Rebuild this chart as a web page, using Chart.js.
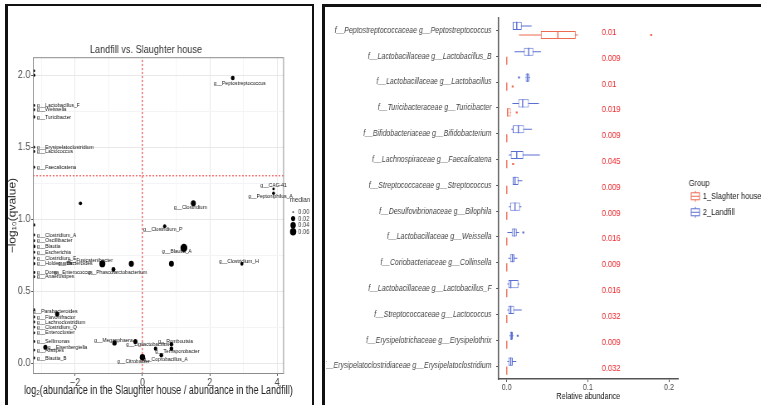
<!DOCTYPE html>
<html>
<head>
<meta charset="utf-8">
<script src="https://cdn.jsdelivr.net/npm/chart.js@4.4.1/dist/chart.umd.min.js"></script>
<style>
  body { margin: 0; width: 761px; height: 405px; overflow: hidden; background: #fff; position: relative; }
  .frame { position: absolute; border: 0 solid #111; }
  #f1 { left: 5px; top: 4px; width: 304px; height: 410px; border-width: 2px 2px 0 3px; }
  #f2 { left: 322px; top: 4px; width: 450px; height: 410px; border-width: 3px 0 0 3px; }
  /* the source figure is squeezed sideways, so the canvases are too */
  .box { position: absolute; transform: scaleX(0.83); transform-origin: 0 0; }
  #b1 { left: 8px; top: 7px; width: 366px; height: 398px; }
  #b2 { left: 326px; top: 7px; width: 524px; height: 398px; }
</style>
</head>
<body>
<div class="frame" id="f1"></div>
<div class="frame" id="f2"></div>
<div class="box" id="b1"><canvas id="volcano"></canvas></div>
<div class="box" id="b2"><canvas id="boxes"></canvas></div>
<script>
const FONT = "'Liberation Sans', Arial, sans-serif";
const SQUEEZE = 0.83;
Chart.defaults.font.family = FONT;
Chart.defaults.animation = false;

// ---- left: volcano plot ----
const genus = ['', '', 'g__Lactobacillus_F', 'g__Weissella', 'g__Turicibacter', 'g__Erysipelatoclostridium',
  'g__Lactococcus', 'g__Faecalicatena', 'g__Peptostreptococcus', 'g__CAG-41', 'g__Peptoniphilus_A', '',
  'g__Clostridium', '', 'g__Clostridium_P', 'g__Clostridium_A', 'g__Oscillibacter', 'g__Blautia',
  'g__Escherichia', 'g__Clostridium_E', 'g__Holdemania', 'g__Bacteroides', 'g__Dorea', 'g__Enterococcus',
  'g__Anaerostipes', 'g__Blautia_A', 'g__Fusicatenibacter', '', 'g__Phascolarctobacterium', '',
  'g__Clostridium_H', '', 'g__Parabacteroides', 'g__Flavonifractor', 'g__Lachnoclostridium',
  'g__Clostridium_Q', 'g__Enterocloster', 'g__Sellimonas', 'g__Eisenbergiella', 'g__Alistipes',
  'g__Blautia_B', 'g__Megasphaera', '', 'g__Ligilactobacillus', 'g__Romboutsia', 'g__Coprobacillus_A',
  'g__Terrisporobacter', 'g__Citrobacter'];
const log2fc = [-3.22, -3.22, -3.22, -3.22, -3.22, -3.22, -3.22, -3.22, 2.68, 3.89, 3.89, -1.84,
  1.51, -3.22, 0.66, -3.22, -3.22, -3.22, -3.22, -3.22, -3.22, -3.22, -3.22, -3.22,
  -3.22, 1.23, -1.19, -0.33, -0.86, 0.86, 2.95, -3.22, -2.53, -3.22, -3.22, -3.22,
  -3.22, -3.22, -2.88, -3.22, -3.22, -0.83, -0.21, 0.39, 0.86, 0.86, 0.56, 0.0];
const negLogQ = [2.03, 2.00, 1.79, 1.76, 1.71, 1.50, 1.47, 1.36, 1.98, 1.21, 1.18, 1.11,
  1.11, 0.96, 0.95, 0.89, 0.85, 0.81, 0.77, 0.73, 0.69, 0.69, 0.63, 0.63,
  0.60, 0.80, 0.69, 0.69, 0.65, 0.69, 0.69, 0.37, 0.34, 0.32, 0.285, 0.25,
  0.21, 0.15, 0.11, 0.09, 0.035, 0.14, 0.15, 0.10, 0.13, 0.10, 0.055, 0.04];
const medianAb = [0.001, 0.002, 0.001, 0.001, 0.002, 0.001, 0.001, 0.001, 0.008, 0.001, 0.003, 0.004,
  0.02, 0.002, 0.005, 0.001, 0.001, 0.004, 0.001, 0.001, 0.001, 0.001, 0.001, 0.001,
  0.001, 0.05, 0.035, 0.022, 0.01, 0.02, 0.004, 0.001, 0.012, 0.001, 0.001, 0.001,
  0.001, 0.001, 0.012, 0.001, 0.001, 0.014, 0.012, 0.006, 0.008, 0.008, 0.008, 0.025];
const medianBreaks = [0, 0.02, 0.04, 0.06];
const X_MIN = -3.25, X_MAX = 4.2, Y_MIN = -0.076, Y_MAX = 2.125;
const FC_CUT = 0, Q_CUT = -Math.log10(0.05);
const X_TITLE = 'log₂(abundance in the Slaughter house / abundance in the Landfill)';

// label nudges in screen px (ggrepel look)
const labelNudge = {
  'g__Peptostreptococcus': [7, 5], 'g__CAG-41': [0, -4], 'g__Peptoniphilus_A': [-3, 3],
  'g__Clostridium': [-3, 4], 'g__Clostridium_P': [-2, 3], 'g__Blautia_A': [-7, 3],
  'g__Fusicatenibacter': [-12, -3], 'g__Phascolarctobacterium': [4, 3], 'g__Clostridium_H': [-3, -2],
  'g__Parabacteroides': [-2, -3], 'g__Eisenbergiella': [22, 0], 'g__Megasphaera': [-1, -3],
  'g__Ligilactobacillus': [-8, -4], 'g__Romboutsia': [4, -3], 'g__Coprobacillus_A': [-6, 11],
  'g__Terrisporobacter': [16, -4], 'g__Citrobacter': [-9, 4], 'g__Bacteroides': [24, 0],
  'g__Enterococcus': [20, 0]
};

const sizeOf = m => 1 + 14 * Math.sqrt(m);
const isMajorX = v => Math.abs(v % 2) === 0;
const isMajorY = v => Math.abs(Math.round(v * 4)) % 2 === 0;

const volcanoExtras = {
  id: 'volcanoExtras',
  afterDatasetsDraw(chart) {
    const { ctx, chartArea: a, scales: { x, y } } = chart;
    ctx.save();
    // panel border
    ctx.strokeStyle = '#8c8c8c';
    ctx.lineWidth = 1;
    ctx.strokeRect(a.left + 0.5, a.top + 0.5, a.right - a.left - 1, a.bottom - a.top - 1);
    // repel-ish labels
    ctx.font = '6px ' + FONT;
    ctx.fillStyle = '#111';
    ctx.textBaseline = 'middle';
    genus.forEach((g, i) => {
      if (!g) return;
      const edge = log2fc[i] < X_MIN + 0.1;
      const n = labelNudge[g] || (edge ? [3, 0] : [0, 5]);
      ctx.textAlign = edge ? 'left' : 'center';
      ctx.fillText(g, x.getPixelForValue(log2fc[i]) + n[0] / SQUEEZE, y.getPixelForValue(negLogQ[i]) + n[1]);
    });
    // x axis title (a bit wider than the panel, so drawn here)
    ctx.textAlign = 'center';
    ctx.font = '12px ' + FONT;
    ctx.fillStyle = '#222';
    ctx.fillText(X_TITLE, (a.left + a.right) / 2, a.bottom + 17, (a.right - a.left) * 1.07);
    // size legend
    const lx = a.right + 7;
    ctx.textAlign = 'left';
    ctx.font = '7.5px ' + FONT;
    ctx.fillStyle = '#333';
    ctx.fillText('median', lx, 193);
    ctx.font = '7px ' + FONT;
    medianBreaks.forEach((m, i) => {
      const cy = 205 + i * 6.6;
      ctx.fillStyle = '#000';
      ctx.beginPath();
      ctx.arc(lx + 4, cy, sizeOf(m) * 0.85, 0, Math.PI * 2);
      ctx.fill();
      ctx.fillStyle = '#333';
      ctx.fillText(m.toFixed(2), lx + 10, cy);
    });
    ctx.restore();
  }
};

new Chart(document.getElementById('volcano'), {
  type: 'scatter',
  data: {
    datasets: [
      {
        data: log2fc.map((v, i) => ({ x: v, y: negLogQ[i] })),
        backgroundColor: '#000',
        borderWidth: 0,
        pointRadius: c => sizeOf(medianAb[c.dataIndex]),
        order: 1
      },
      {
        data: [{ x: FC_CUT, y: Y_MIN }, { x: FC_CUT, y: Y_MAX }],
        showLine: true, pointRadius: 0, borderColor: '#f03535', borderWidth: 1, borderDash: [2, 2], order: 2
      },
      {
        data: [{ x: X_MIN, y: Q_CUT }, { x: X_MAX, y: Q_CUT }],
        showLine: true, pointRadius: 0, borderColor: '#f03535', borderWidth: 1, borderDash: [2, 2], order: 2
      }
    ]
  },
  options: {
    responsive: true,
    maintainAspectRatio: false,
    layout: { padding: { right: 33.5 } },
    plugins: {
      legend: { display: false },
      tooltip: { enabled: false },
      title: {
        display: true, text: 'Landfill vs. Slaughter house', color: '#333',
        font: { size: 11, weight: 'normal', lineHeight: 1.2 }, padding: { top: 36, bottom: 1 }
      }
    },
    scales: {
      x: {
        type: 'linear', min: X_MIN, max: X_MAX,
        ticks: {
          stepSize: 1, includeBounds: false, autoSkip: false, color: '#4d4d4d', font: { size: 11 }, padding: 0,
          callback: v => isMajorX(v) ? String(v).replace('-', '−') : ''
        },
        grid: {
          color: c => isMajorX(c.tick.value) ? '#e8e8e8' : '#f4f4f4',
          tickLength: 2,
          tickColor: c => isMajorX(c.tick.value) ? '#555' : 'rgba(0,0,0,0)'
        },
        border: { display: false },
        afterFit: s => { s.height = 31; }
      },
      y: {
        type: 'linear', min: Y_MIN, max: Y_MAX,
        ticks: {
          stepSize: 0.25, includeBounds: false, autoSkip: false, color: '#4d4d4d', font: { size: 11 }, padding: 1,
          callback: v => isMajorY(v) ? v.toFixed(1) : ''
        },
        grid: {
          color: c => isMajorY(c.tick.value) ? '#e8e8e8' : '#f4f4f4',
          tickLength: 2,
          tickColor: c => isMajorY(c.tick.value) ? '#555' : 'rgba(0,0,0,0)'
        },
        border: { display: false },
        title: { display: true, text: '−log₁₀(qvalue)', color: '#222', font: { size: 12, lineHeight: 1 }, padding: 0 },
        afterFit: s => { s.width = 30; }
      }
    }
  },
  plugins: [volcanoExtras]
});

// ---- right: box plots ----
const taxa = [
  'f__Peptostreptococcaceae g__Peptostreptococcus',
  'f__Lactobacillaceae g__Lactobacillus_B',
  'f__Lactobacillaceae g__Lactobacillus',
  'f__Turicibacteraceae g__Turicibacter',
  'f__Bifidobacteriaceae g__Bifidobacterium',
  'f__Lachnospiraceae g__Faecalicatena',
  'f__Streptococcaceae g__Streptococcus',
  'f__Desulfovibrionaceae g__Bilophila',
  'f__Lactobacillaceae g__Weissella',
  'f__Coriobacteriaceae g__Collinsella',
  'f__Lactobacillaceae g__Lactobacillus_F',
  'f__Streptococcaceae g__Lactococcus',
  'f__Erysipelotrichaceae g__Erysipelothrix',
  'f__Erysipelatoclostridiaceae g__Erysipelatoclostridium'
];
const qValues = ['0.01', '0.009', '0.01', '0.019', '0.009', '0.045', '0.009', '0.009', '0.016', '0.009', '0.016', '0.032', '0.009', '0.032'];

const landfillMin = [0.0074, 0.0094, 0.0233, 0.0069, 0.0057, 0.0025, 0.0074, 0.0025, 0.0007, 0.0020, 0.0007, 0.0007, 0.0033, 0.0007];
const landfillQ1  = [0.0074, 0.0212, 0.0233, 0.0142, 0.0074, 0.0049, 0.0074, 0.0041, 0.0061, 0.0040, 0.0020, 0.0020, 0.0040, 0.0020];
const landfillMed = [0.0123, 0.0270, 0.0255, 0.0196, 0.0143, 0.0123, 0.0102, 0.0102, 0.0094, 0.0069, 0.0049, 0.0049, 0.0057, 0.0049];
const landfillQ3  = [0.0184, 0.0327, 0.0277, 0.0273, 0.0212, 0.0204, 0.0143, 0.0163, 0.0123, 0.0094, 0.0143, 0.0090, 0.0074, 0.0074];
const landfillMax = [0.0306, 0.0421, 0.0285, 0.0396, 0.0310, 0.0408, 0.0191, 0.0180, 0.0151, 0.0130, 0.0155, 0.0184, 0.0082, 0.0118];
const landfillOut = [null, null, 0.0151, null, null, null, null, null, 0.0204, null, null, null, 0.0135, null];

const slaughterMin = [0.015, 0, 0, 0.0007, 0, 0, 0, 0, 0, 0, 0, 0, 0, 0];
const slaughterQ1  = [0.042, 0, 0, 0.0007, 0, 0, 0, 0, 0, 0, 0, 0, 0, 0];
const slaughterMed = [0.063, 0, 0, 0.0010, 0, 0, 0, 0, 0, 0, 0, 0, 0, 0];
const slaughterQ3  = [0.085, 0, 0, 0.0049, 0, 0, 0, 0, 0, 0, 0, 0, 0, 0];
const slaughterMax = [0.0877, 0, 0, 0.0049, 0, 0, 0, 0, 0, 0, 0, 0, 0, 0];
const slaughterOut = [0.178, null, 0.0073, 0.0123, null, 0.0078, null, null, null, null, null, null, null, null];

const groups = ['1_Slaghter house', '2_Landfill'];
const groupColors = ['#ee6a50', '#5b6fd3'];
const P_TEXT_X = 0.117;
const MED_HALF = 0.0007, OUT_HALF = 0.0012;

const span = (a, b) => a.map((v, i) => v === null ? null : [v, b[i]]);
const around = (a, h) => a.map(v => v === null ? null : [v - h, v + h]);

function boxSets(stack, color, mn, q1, md, q3, mx, out) {
  const common = { stack, categoryPercentage: 0.7, borderSkipped: false };
  return [
    { ...common, data: span(mn, mx), backgroundColor: color, barPercentage: 0.11, order: 3 },
    { ...common, data: span(q1, q3), backgroundColor: '#fff', borderColor: color, borderWidth: 1, barPercentage: 0.9, order: 2 },
    { ...common, data: around(md, MED_HALF), backgroundColor: color, barPercentage: 0.9, order: 1 },
    { ...common, data: around(out, OUT_HALF), backgroundColor: color, barPercentage: 0.22, order: 1 }
  ];
}

const boxExtras = {
  id: 'boxExtras',
  afterDraw(chart) {
    const { ctx, chartArea: a, scales: { x, y } } = chart;
    ctx.save();
    ctx.font = '9px ' + FONT;
    ctx.fillStyle = '#f0282d';
    ctx.textBaseline = 'middle';
    ctx.textAlign = 'left';
    qValues.forEach((q, i) => ctx.fillText(q, x.getPixelForValue(P_TEXT_X), y.getPixelForValue(i) + 2));
    // legend
    const mid = (a.top + a.bottom) / 2;
    ctx.fillStyle = '#222';
    ctx.font = '9px ' + FONT;
    ctx.fillText('Group', a.right + 13, mid - 15);
    groups.forEach((g, i) => {
      const cy = mid - 2 + i * 16, cx = a.right + 21;
      ctx.strokeStyle = groupColors[i];
      ctx.lineWidth = 1;
      ctx.strokeRect(cx - 5, cy - 3.5, 10, 7);
      ctx.beginPath();
      ctx.moveTo(cx - 5, cy); ctx.lineTo(cx + 5, cy);
      ctx.moveTo(cx, cy - 5.5); ctx.lineTo(cx, cy - 3.5);
      ctx.moveTo(cx, cy + 3.5); ctx.lineTo(cx, cy + 5.5);
      ctx.stroke();
      ctx.fillStyle = '#222';
      ctx.fillText(g, a.right + 30, cy);
    });
    ctx.restore();
  }
};

new Chart(document.getElementById('boxes'), {
  type: 'bar',
  data: {
    labels: taxa,
    datasets: [
      ...boxSets('L', groupColors[1], landfillMin, landfillQ1, landfillMed, landfillQ3, landfillMax, landfillOut),
      ...boxSets('S', groupColors[0], slaughterMin, slaughterQ1, slaughterMed, slaughterQ3, slaughterMax, slaughterOut)
    ]
  },
  options: {
    indexAxis: 'y',
    responsive: true,
    maintainAspectRatio: false,
    layout: { padding: { top: 6, right: 100 } },
    plugins: { legend: { display: false }, tooltip: { enabled: false } },
    scales: {
      y: {
        type: 'category',
        grid: { drawOnChartArea: false, offset: false, tickLength: 3, tickColor: '#555' },
        border: { color: '#555', width: 1.5 },
        ticks: { autoSkip: false, color: '#444', font: { size: 8.4, style: 'italic' }, padding: 5.5 },
        afterFit: s => { s.width = 208; }
      },
      x: {
        type: 'linear', min: -0.01, max: 0.211, stacked: false,
        ticks: { stepSize: 0.1, includeBounds: false, color: '#444', font: { size: 8.5 }, padding: 1, callback: v => v.toFixed(1) },
        grid: { drawOnChartArea: false, tickLength: 3, tickColor: '#555' },
        border: { color: '#555', width: 1.5 },
        title: { display: true, text: 'Relative abundance', color: '#111', font: { size: 8.7 }, padding: { top: 0, bottom: 3 } },
        afterFit: s => { s.height = 26; }
      }
    }
  },
  plugins: [boxExtras]
});
</script>
</body>
</html>
